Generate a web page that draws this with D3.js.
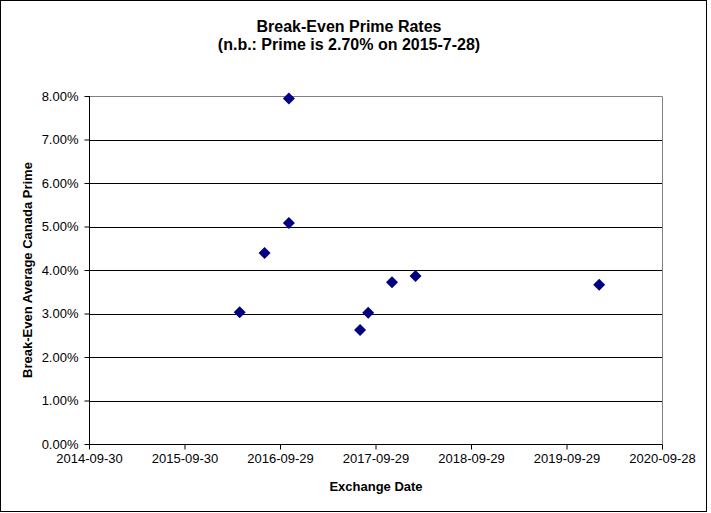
<!DOCTYPE html>
<html><head><meta charset="utf-8">
<script src="https://cdn.jsdelivr.net/npm/d3@7"></script>
<style>body{margin:0;background:#fff}svg{display:block;font-family:"Liberation Sans",Arial,sans-serif}</style>
</head><body><svg id="c" width="711" height="513"></svg>
<script>
const dates = ["2016-04-28","2016-08-01","2016-11-02","2016-11-02","2017-08-01","2017-09-01","2017-12-01","2018-03-01","2020-02-01"];
const rates = [3.03,4.39,5.08,7.94,2.62,3.02,3.72,3.86,3.66];
const xTickLabels = ["2014-09-30","2015-09-30","2016-09-29","2017-09-29","2018-09-29","2019-09-29","2020-09-28"];
const yTicks = [0,1,2,3,4,5,6,7,8];
const titleLines = ["Break-Even Prime Rates","(n.b.: Prime is 2.70% on 2015-7-28)"];
const xTitle = "Exchange Date";
const yTitle = "Break-Even Average Canada Prime";

const parse = d3.utcParse("%Y-%m-%d");
const svg = d3.select("#c");
const L=89, R=662, T=96, B=444;
const x = d3.scaleUtc().domain([parse(xTickLabels[0]), parse(xTickLabels[xTickLabels.length-1])]).range([L,R]);
const y = d3.scaleLinear().domain([0,8]).range([B,T]);

svg.append("rect").attr("x",0.5).attr("y",0.5).attr("width",706).attr("height",511).attr("fill","#fff").attr("stroke","#000");

// gridlines
svg.append("g").selectAll("line").data(yTicks.filter(d=>d>0&&d<8)).join("line")
  .attr("x1",L).attr("x2",R).attr("y1",d=>Math.round(y(d))+0.5).attr("y2",d=>Math.round(y(d))+0.5)
  .attr("stroke","#000");
// plot border top/right grey
svg.append("path").attr("d",`M${L},${T+0.5}H${R+0.5}V${B}`).attr("fill","none").attr("stroke","#808080");

const yAxis = d3.axisLeft(y).tickValues(yTicks).tickFormat(d=>d.toFixed(2)+"%").tickSize(5).tickPadding(6);
const gy = svg.append("g").attr("transform",`translate(${L+0.5},0)`).call(yAxis);
gy.selectAll("text").attr("font-size",13).attr("fill","#000").attr("font-family","Liberation Sans, Arial, sans-serif");
gy.selectAll("line,path").attr("stroke","#000");
gy.select(".domain").attr("d",`M0,${T}V${B+0.5}`);

const xAxis = d3.axisBottom(x).tickValues(xTickLabels.map(parse)).tickFormat((d,i)=>xTickLabels[i]).tickSize(5).tickPadding(4);
const gx = svg.append("g").attr("transform",`translate(0,${B+0.5})`).call(xAxis);
gx.selectAll("text").attr("font-size",13).attr("fill","#000").attr("font-family","Liberation Sans, Arial, sans-serif");
gx.selectAll("line,path").attr("stroke","#000");
gx.select(".domain").attr("d",`M${L},0H${R+0.5}`);

// points
const s = 6;
svg.append("g").selectAll("path").data(dates.map((d,i)=>({d:parse(d),v:rates[i]}))).join("path")
  .attr("transform",p=>`translate(${x(p.d)},${y(p.v)})`)
  .attr("d",`M0,${-s}L${s},0L0,${s}L${-s},0Z`).attr("fill","#000080");

// titles
svg.append("text").attr("x",349).attr("y",32).attr("text-anchor","middle").attr("font-size",16).attr("font-weight","bold").text(titleLines[0]);
svg.append("text").attr("x",349).attr("y",50).attr("text-anchor","middle").attr("font-size",16).attr("font-weight","bold").text(titleLines[1]);
svg.append("text").attr("x",376).attr("y",491).attr("text-anchor","middle").attr("font-size",13).attr("font-weight","bold").text(xTitle);
svg.append("text").attr("transform","translate(32,270) rotate(-90)").attr("text-anchor","middle").attr("font-size",13).attr("font-weight","bold").text(yTitle);
</script></body></html>
